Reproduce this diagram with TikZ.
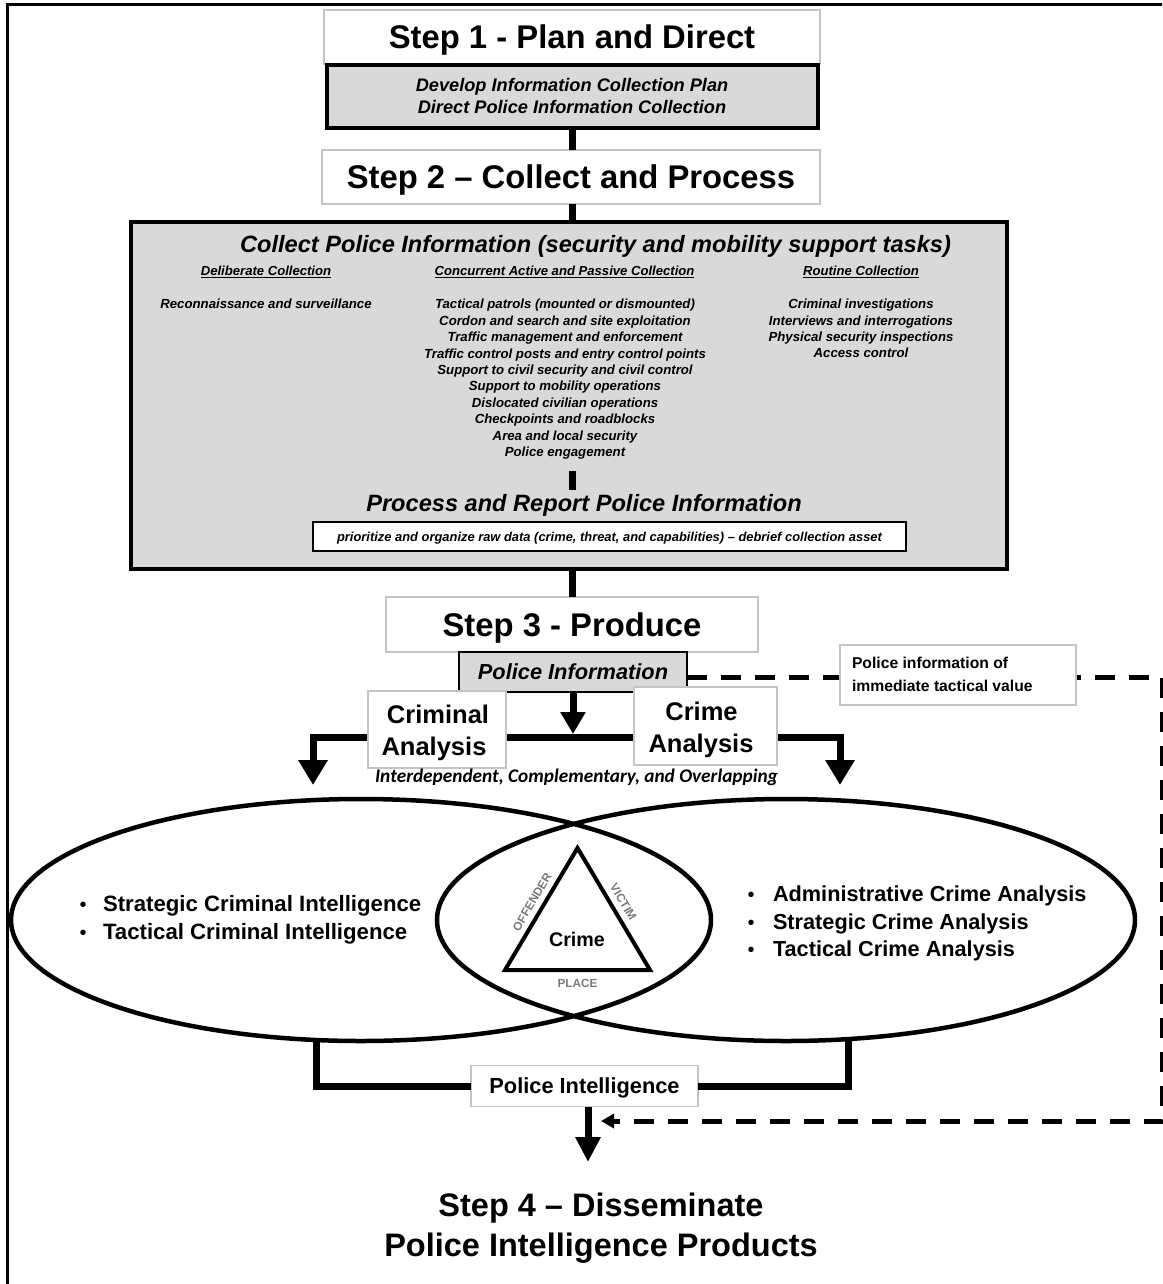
\documentclass[tikz,border=0pt]{standalone}
\usepackage{fontspec}
\setmainfont{Liberation Sans}
\newfontfamily\calibrifont{Carlito}
\usetikzlibrary{arrows.meta,backgrounds,shapes.geometric,calc}

\definecolor{panel}{HTML}{D9D9D9}
\definecolor{hairline}{HTML}{C4C4C4}
\definecolor{labelgray}{HTML}{7A7A7A}

\newcommand{\fsz}[2]{\fontsize{#1pt}{#2pt}\selectfont}

\tikzset{
  every node/.style={inner sep=0pt, outer sep=0pt},
  capc/.style={text height=#1, text depth=0pt},
  hairbox/.style={draw=hairline, line width=1.2pt, fill=white},
  panelbox/.style={draw=black, fill=panel},
  titletext/.style={font=\bfseries\fsz{32.8}{39}, capc=23.5pt},
  plantext/.style={font=\bfseries\itshape\fsz{18.2}{22}, capc=13pt},
  headtext/.style={font=\bfseries\itshape\fsz{23.6}{28}, capc=16.9pt},
  subhead/.style={font=\bfseries\itshape\fsz{13.1}{16}, capc=9.4pt},
  itemtext/.style={font=\bfseries\itshape\fsz{13.2}{16.5}, capc=9.4pt},
  analysistext/.style={font=\bfseries\fsz{25.5}{32}, capc=18.3pt},
  bullettext/.style={font=\bfseries\fsz{22.2}{28}, capc=15.9pt, anchor=west},
  bulletdot/.style={font=\fsz{20}{24}, capc=14.3pt},
  sidelabel/.style={font=\bfseries\fsz{11.8}{14}, capc=8.4pt, text=labelgray},
  conn/.style={line width=7pt},
  dashline/.style={line width=5pt, dash pattern=on 20pt off 14pt},
}

\begin{document}
\begin{tikzpicture}[x=1pt,y=-1pt]
\useasboundingbox (0,0) rectangle (1162,1284);
\clip (0,0) rectangle (1162,1284);
\begin{pgfonlayer}{background}
  \fill[white] (0,0) rectangle (1162,1284);
\end{pgfonlayer}

% outer frame (runs off the page on the right and at the bottom)
\draw[line width=3pt] (7.3,1300) -- (7.3,4.5) -- (1180,4.5);

% ---------- Step 1 ----------
\node[hairbox, minimum width=496pt, minimum height=54pt, titletext] (step1) at (572,37) {Step 1 - Plan and Direct};
\node[panelbox, line width=3.5pt, minimum width=491pt, minimum height=63pt] (plan) at (572.5,96.5) {};
\node[plantext] (plan1) at (572,85) {Develop Information Collection Plan};
\node[plantext] (plan2) at (572,107) {Direct Police Information Collection};

% ---------- Step 2 ----------
\node[hairbox, minimum width=498pt, minimum height=54pt, titletext] (step2) at (571,177) {Step 2 – Collect and Process};
\node[panelbox, line width=3.5pt, minimum width=876pt, minimum height=347pt] (collect) at (569,395.5) {};
\node[headtext] (collecthead) at (595.5,244) {Collect Police Information (security and mobility support tasks)};

\node[subhead] (deliberate) at (266,271) {\underline{Deliberate Collection}};
\node[subhead] (concurrent) at (564.5,271) {\underline{Concurrent Active and Passive Collection}};
\node[subhead] (routine) at (861,271) {\underline{Routine Collection}};

\node[itemtext] (recon) at (266,304) {Reconnaissance and surveillance};
\foreach \t [count=\i from 0] in {Tactical patrols (mounted or dismounted),
    Cordon and search and site exploitation,
    Traffic management and enforcement,
    Traffic control posts and entry control points,
    Support to civil security and civil control,
    Support to mobility operations,
    Dislocated civilian operations,
    Checkpoints and roadblocks,
    Area and local security,
    Police engagement}
  \node[itemtext] (mid\i) at (565,{304+16.45*\i}) {\t};
\foreach \t [count=\i from 0] in {Criminal investigations,
    Interviews and interrogations,
    Physical security inspections,
    Access control}
  \node[itemtext] (rt\i) at (861,{304+16.4*\i}) {\t};

\coordinate (bartop) at (572,471);
\coordinate (barbot) at (572,490);
\draw[conn] (bartop) -- (barbot);

\node[headtext] (processhead) at (584,503) {Process and Report Police Information};
\node[draw=black, fill=white, line width=2.5pt, minimum width=593pt, minimum height=29pt,
      font=\bfseries\itshape\fsz{12.9}{16}, capc=9.2pt] (rawdata) at (609.5,536.5)
  {prioritize and organize raw data (crime, threat, and capabilities) – debrief collection asset};

% ---------- Step 3 ----------
\node[hairbox, minimum width=372pt, minimum height=55pt, titletext] (step3) at (572,624.5) {Step 3 - Produce};
\node[panelbox, line width=2pt, minimum width=228pt, minimum height=40pt,
      font=\bfseries\itshape\fsz{21.8}{26}, capc=15.6pt] (pinfo) at (573,672) {Police Information};

\node[hairbox, minimum width=138pt, minimum height=77pt] (criminal) at (437,729.5) {};
\node[analysistext] (criminal1) at (438,714) {Criminal};
\node[analysistext] (criminal2) at (434,746) {Analysis};
\node[hairbox, minimum width=143pt, minimum height=78pt] (crimean) at (705.5,726) {};
\node[analysistext] (crime1) at (701.5,711) {Crime};
\node[analysistext] (crime2) at (701,743) {Analysis};

\node[font=\calibrifont\bfseries\itshape\fsz{19.3}{23}, capc=12.4pt] (overlap) at (576.5,776)
  {Interdependent, Complementary, and Overlapping};

\node[hairbox, minimum width=236pt, minimum height=60pt] (tactical) at (958,675) {};
\node[font=\bfseries\fsz{15.7}{23}, capc=11.2pt, anchor=west] (tactical1) at (852,663) {Police information of};
\node[font=\bfseries\fsz{15.7}{23}, capc=11.2pt, anchor=west] (tactical2) at (852,686) {immediate tactical value};

% ---------- Criminal / crime analysis overlap ----------
\node[draw, ellipse, line width=4.5pt, minimum width=700pt, minimum height=242pt] (crimL) at (361,920) {};
\node[draw, ellipse, line width=4.5pt, minimum width=698pt, minimum height=242pt] (crimR) at (786,920) {};

\coordinate (triA) at (577.5,848);
\coordinate (triB) at (650,970);
\coordinate (triC) at (505,970);
\draw[line width=4pt] (triA) -- (triB) -- (triC) -- cycle;
\node[font=\bfseries\fsz{19.7}{24}, capc=14.1pt] (crime) at (577,939) {Crime};
\node[sidelabel] (place) at (577.5,983) {PLACE};
\node[sidelabel, rotate=59.5] (offender) at (532,902) {OFFENDER};
\node[sidelabel, rotate=-59.5] (victim) at (623.5,902) {VICTIM};

\node[bulletdot] (lb1) at (83,904) {\textbullet};
\node[bulletdot] (lb2) at (83,932) {\textbullet};
\node[bullettext] (lt1) at (103,904) {Strategic Criminal Intelligence};
\node[bullettext] (lt2) at (103,932) {Tactical Criminal Intelligence};

\node[bulletdot] (rb1) at (751,894) {\textbullet};
\node[bulletdot] (rb2) at (751,922) {\textbullet};
\node[bulletdot] (rb3) at (751,949) {\textbullet};
\node[bullettext, font=\bfseries\fsz{21.7}{28}, capc=15.5pt] (rt1x) at (773,894) {Administrative Crime Analysis};
\node[bullettext, font=\bfseries\fsz{21.7}{28}, capc=15.5pt] (rt2x) at (773,922) {Strategic Crime Analysis};
\node[bullettext, font=\bfseries\fsz{21.7}{28}, capc=15.5pt] (rt3x) at (773,949) {Tactical Crime Analysis};

% ---------- Police intelligence ----------
\node[hairbox, minimum width=227pt, minimum height=41pt,
      font=\bfseries\fsz{21.8}{26}, capc=15.6pt] (pintel) at (584.5,1086) {Police Intelligence};
\coordinate (lfoot) at (316,1038);
\coordinate (rfoot) at (848,1037);
\draw[conn] (lfoot) |- (pintel.west);
\draw[conn] (rfoot) |- (pintel.east);

% ---------- Step 4 ----------
\node[font=\bfseries\fsz{32.5}{40}, capc=23.3pt] (step4a) at (601,1205) {Step 4 – Disseminate};
\node[font=\bfseries\fsz{32.5}{40}, capc=23.3pt] (step4b) at (601,1245) {Police Intelligence Products};
\coordinate (tip4) at (588,1162);
\draw[conn, -{Triangle[length=25pt,width=24pt]}] (pintel.south -| tip4) -- (tip4);

% ---------- connectors ----------
\draw[conn] (plan.south -| barbot) -- (step2.north -| barbot);
\draw[conn] (step2.south -| barbot) -- (collect.north -| barbot);
\draw[conn] (collect.south -| barbot) -- (step3.north -| barbot);

\coordinate (pinfotip) at (573,734);
\draw[conn, -{Triangle[length=22pt,width=24pt]}] (pinfo.south) -- (pinfotip);

\coordinate (branchL) at (313,737);
\coordinate (branchR) at (840,737);
\coordinate (tipL) at (313,785);
\coordinate (tipR) at (840,785);
\coordinate (dashNE) at (1162.5,677);
\coordinate (dashSE) at (1162.5,1121);
\coordinate (dashtip) at (601,1121);
\begin{pgfonlayer}{background}
  \draw[conn, {Triangle[length=25pt,width=28pt]}-{Triangle[length=25pt,width=28pt]}]
    (tipL) -- (branchL) -- (branchR) -- (tipR);
  \draw[dashline, -{Triangle[length=13pt,width=14pt]}]
    ([yshift=-5pt]pinfo.east) -- (dashNE) -- (dashSE) -- (dashtip);
\end{pgfonlayer}
\end{tikzpicture}
\end{document}
